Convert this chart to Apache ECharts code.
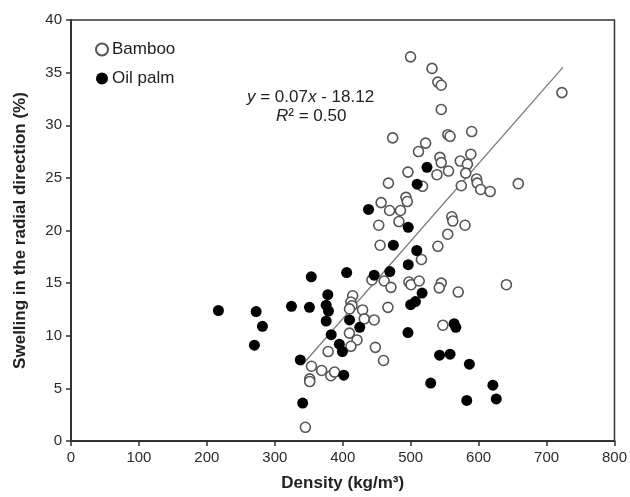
<!DOCTYPE html>
<html>
<head>
<meta charset="utf-8">
<script src="https://cdn.jsdelivr.net/npm/echarts@6/dist/echarts.min.js"></script>
<style>
  html, body { margin: 0; padding: 0; background: #fff; }
  #chart { width: 630px; height: 497px; }
</style>
</head>
<body>
<div id="chart"></div>
<script>
// density (kg/m3), swelling in the radial direction (%)
var bamboo = [
  [499.8, 36.5], [531.4, 35.4], [540, 34.1], [545, 33.8], [545, 31.5], [722.6, 33.1],
  [473.5, 28.8], [589.8, 29.4], [554.7, 29.1], [558, 28.95], [522, 28.3], [511.5, 27.5],
  [588.5, 27.25], [543, 26.95], [545, 26.45], [573, 26.6], [583.5, 26.3],
  [496, 25.55], [538.7, 25.3], [555.7, 25.65], [581, 25.45],
  [467.2, 24.5], [517.5, 24.2], [574.5, 24.25], [597, 24.9], [598, 24.5], [603, 23.9], [617, 23.7], [658.4, 24.45],
  [493, 23.15], [495, 22.75], [456.5, 22.65], [469, 21.9], [485, 21.9],
  [453, 20.5], [482.7, 20.85], [560.5, 21.3], [562, 20.9], [580, 20.5], [554.5, 19.65],
  [540, 18.5], [455, 18.6], [515.8, 17.25],
  [443, 15.3], [461, 15.2], [471, 14.6], [497.4, 15.1], [500.5, 14.85], [512.5, 15.2],
  [545, 15.0], [542, 14.55], [570, 14.15], [640.9, 14.85],
  [414.6, 13.8], [412, 13.2], [413.6, 12.85], [410, 12.55], [429.2, 12.45], [431.7, 11.6],
  [446.3, 11.5], [466.5, 12.7], [547.5, 11.0],
  [409.8, 10.25], [421, 9.6], [412, 9.0], [378.5, 8.5], [448, 8.9], [460, 7.65],
  [354, 7.1], [369, 6.7], [382.5, 6.2], [388, 6.55], [351.4, 5.9], [351.4, 5.65], [345, 1.3]
];
var oilPalm = [
  [217, 12.4], [272.5, 12.3], [281.8, 10.9], [270, 9.1], [324.5, 12.8], [351, 12.7],
  [353.7, 15.6], [337.5, 7.7], [341, 3.6],
  [524, 26.0], [509.5, 24.4], [438, 22.0], [496.4, 20.3], [474.5, 18.6], [509, 18.1], [496.4, 16.75],
  [405.8, 16.0], [446.3, 15.75], [469.3, 16.1], [516.8, 14.05], [507, 13.25], [500, 12.95],
  [378, 13.9], [375.6, 12.9], [379, 12.35], [375.6, 11.4], [410, 11.5], [425, 10.8],
  [383, 10.1], [395, 9.2], [399.5, 8.5], [401.5, 6.25],
  [496, 10.3], [564, 11.15], [566.5, 10.8], [542.5, 8.15], [558, 8.25], [586.4, 7.3],
  [529.5, 5.5], [621, 5.3], [582.5, 3.85], [626, 4.0]
];
// fitted line ends as drawn in the figure
var trendLine = [[340, 7.2], [724, 35.5]];

var xTicks = { min: 0, max: 800, interval: 100 };
var yTicks = { min: 0, max: 40, interval: 5 };

var font = '"Liberation Sans", Arial, sans-serif';
var chart = echarts.init(document.getElementById('chart'));
chart.setOption({
  animation: false,
  textStyle: { fontFamily: font },
  grid: { left: 71, right: 11, top: 20, bottom: 52, show: true, borderColor: '#333', borderWidth: 1.5 },
  legend: {
    orient: 'vertical', left: 90, top: 36, itemGap: 12, itemWidth: 12, itemHeight: 12,
    textStyle: { fontSize: 17, color: '#222', fontFamily: font, padding: [0, 0, 0, -1] },
    data: [
      { name: 'Bamboo', icon: 'circle' },
      { name: 'Oil palm', icon: 'circle' }
    ]
  },
  graphic: [
    { type: 'text', left: 247, top: 89,
      style: { text: '{i|y} = 0.07{i|x} - 18.12', font: '17px ' + font, fill: '#222',
        rich: { i: { fontStyle: 'italic', fontSize: 17, fontFamily: font } } } },
    { type: 'text', left: 276, top: 108,
      style: { text: '{i|R}² = 0.50', font: '17px ' + font, fill: '#222',
        rich: { i: { fontStyle: 'italic', fontSize: 17, fontFamily: font } } } }
  ],
  xAxis: {
    type: 'value', min: xTicks.min, max: xTicks.max, interval: xTicks.interval,
    name: 'Density (kg/m³)', nameLocation: 'middle', nameGap: 34,
    nameTextStyle: { fontSize: 17, fontWeight: 'bold', color: '#222' },
    axisLine: { lineStyle: { color: '#333', width: 2 } },
    axisTick: { length: 5, lineStyle: { color: '#333', width: 1.5 } },
    axisLabel: { fontSize: 15, color: '#2a2a2a', margin: 9 },
    splitLine: { show: false }
  },
  yAxis: {
    type: 'value', min: yTicks.min, max: yTicks.max, interval: yTicks.interval,
    name: 'Swelling in the radial direction (%)', nameLocation: 'middle', nameGap: 42,
    nameTextStyle: { fontSize: 17, fontWeight: 'bold', color: '#222' },
    axisLine: { lineStyle: { color: '#333', width: 2 } },
    axisTick: { length: 5, lineStyle: { color: '#333', width: 1.5 } },
    axisLabel: { fontSize: 15, color: '#2a2a2a', margin: 9 },
    splitLine: { show: false }
  },
  series: [
    {
      name: 'Bamboo', type: 'scatter', data: bamboo, symbol: 'circle', symbolSize: 10,
      itemStyle: { color: '#fff', borderColor: '#555', borderWidth: 1.6, opacity: 1 }
    },
    {
      name: 'Oil palm', type: 'scatter', data: oilPalm, symbol: 'circle', symbolSize: 11,
      itemStyle: { color: '#000', borderColor: '#000', borderWidth: 0, opacity: 1 }
    },
    {
      name: 'fit', type: 'line', data: trendLine, showSymbol: false, symbol: 'none',
      lineStyle: { color: '#7a7a7a', width: 1.3 }, z: 1
    }
  ]
});
</script>
</body>
</html>
